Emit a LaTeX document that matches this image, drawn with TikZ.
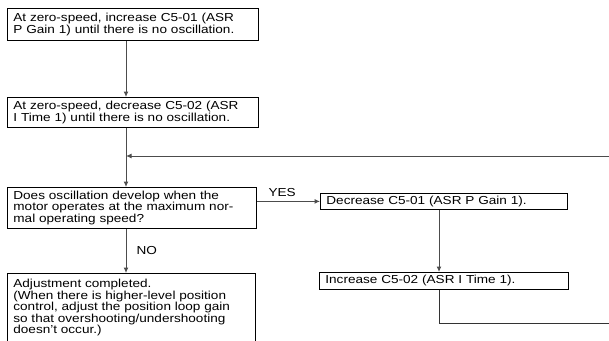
\documentclass[tikz,border=0pt]{standalone}
\usepackage{fontspec}
\setmainfont[FakeStretch=1.17]{Liberation Sans}
\usetikzlibrary{positioning,arrows.meta}
\lineskiplimit=-20pt

\begin{document}
\begin{tikzpicture}[x=1pt, y=-1pt,
  font=\fontsize{11.6}{11.4}\selectfont,
  stepbox/.style={draw=black, line width=0.8pt, anchor=north west, align=left,
                  inner xsep=6pt, inner ysep=2pt},
  flow/.style={-{Latex[length=5.5pt,width=5pt]}, draw=black!70, line width=1pt},
  loopline/.style={draw=black!80, line width=1pt},
  yn/.style={inner sep=1pt},
]
\useasboundingbox (0,0) rectangle (609,340);
\coordinate (lcol) at (126,0);
\coordinate (rcol) at (439,0);
\coordinate (rtop) at (609,156);
\coordinate (rbot) at (609,323);
\node[stepbox, text width=239pt, minimum height=32pt] (inc) at (7,8)
  {At zero-speed, increase C5-01 (ASR\\P Gain 1) until there is no oscillation.};
\node[stepbox, text width=239pt, minimum height=30pt] (dec) at (7,97)
  {At zero-speed, decrease C5-02 (ASR\\I Time 1) until there is no oscillation.};
\node[stepbox, text width=237pt, minimum height=41pt] (ask) at (7,187)
  {Does oscillation develop when the\\motor operates at the maximum nor-\\mal operating speed?};
\node[stepbox, text width=235pt, minimum height=16pt, inner ysep=1pt] (pgain) at (320,193)
  {Decrease C5-01 (ASR P Gain 1).};
\node[stepbox, text width=237pt, minimum height=17pt, inner ysep=1pt] (itime) at (319,272)
  {Increase C5-02 (ASR I Time 1).};
\node[stepbox, inner ysep=6pt] (done) at (7,273)
  {\parbox[c][85pt][t]{236pt}{\raggedright Adjustment completed.\\(When there is higher-level position\\control, adjust the position loop gain\\so that overshooting/undershooting\\doesn't occur.)}};
\coordinate (join) at (lcol |- rtop);
\coordinate (turn) at (rcol |- rbot);
% main column
\draw[flow] (inc.south -| lcol) -- (dec.north -| lcol);
\draw[flow] (dec.south -| lcol) -- (ask.north -| lcol);
\draw[flow] (ask.south -| lcol) -- node[yn, right=9pt]{NO} (done.north -| lcol);
% yes branch
\draw[flow] (ask.east |- pgain.west) -- node[yn, above=3pt, pos=0.4]{YES} (pgain.west);
\draw[flow] (pgain.south -| rcol) -- (itime.north -| rcol);
% back to the check
\draw[loopline] (itime.south -| rcol) -- (turn) -- (rbot);
\draw[flow] (rtop) -- (join);
\end{tikzpicture}
\end{document}
